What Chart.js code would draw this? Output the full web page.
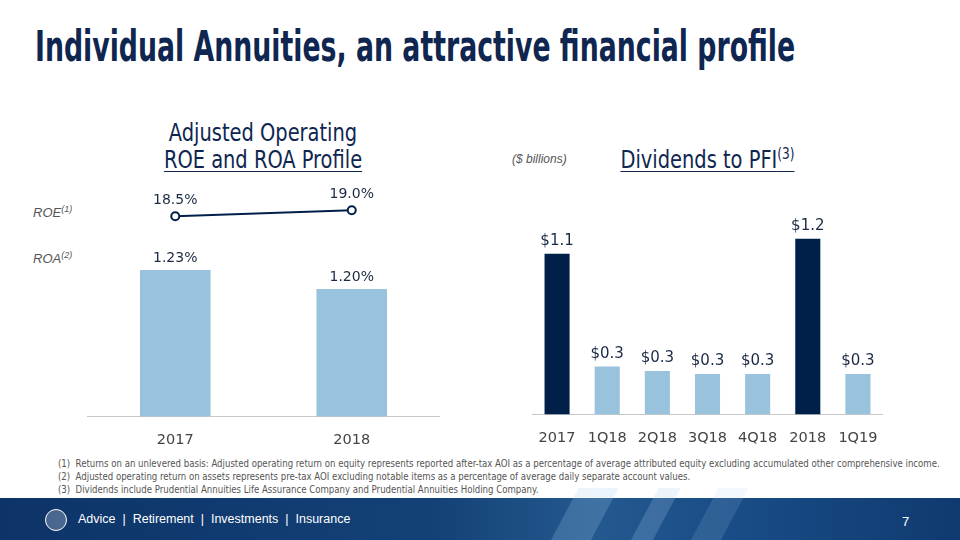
<!DOCTYPE html>
<html>
<head>
<meta charset="utf-8">
<script src="https://cdn.jsdelivr.net/npm/chart.js@4.4.1/dist/chart.umd.min.js"></script>
<style>
  body { margin: 0; background: #fff; }
  #page { position: relative; width: 960px; height: 540px; overflow: hidden; background: #fff; font-family: 'DejaVu Sans', sans-serif; }
  .abs { position: absolute; white-space: nowrap; }
  #title { left: 35px; top: 22px; font-family: 'DejaVu Sans Condensed', sans-serif; font-weight: bold; font-size: 42px; color: #0f2650; transform-origin: 0 0; }
  .ctitle { font-family: 'DejaVu Sans Condensed', sans-serif; font-size: 24px; color: #0f2650; text-align: center; line-height: 27px; transform: scaleX(0.9); }
  .ctitle u { text-decoration-thickness: 1px; text-underline-offset: 3px; }
  .side { font-family: 'Liberation Sans', sans-serif; font-style: italic; font-size: 13px; color: #555; }
  .side sup { font-size: 9px; }
  #notes { left: 58px; top: 457px; font-family: 'DejaVu Sans Condensed', sans-serif; font-size: 11px; line-height: 13px; color: #555; transform-origin: 0 0; }
  #footer { left: 0; top: 498px; width: 960px; height: 42px;
    background: linear-gradient(90deg, #0d3468 0%, #134177 45%, #24598f 62%, #1a4d87 75%, #0f3a70 100%); }
  .streak { position: absolute; top: -10px; height: 70px; background: rgba(170,205,240,0.22); transform: skewX(-28deg); }
  #logo { left: 45px; top: 509px; width: 20px; height: 20px; border: 1.5px solid #fff; border-radius: 50%; background: rgba(255,255,255,0.25); }
  #tag { left: 78px; top: 512px; font-family: 'Liberation Sans', sans-serif; font-size: 12.5px; color: #fff; }
  #pnum { left: 902px; top: 514px; font-family: 'Liberation Sans', sans-serif; font-size: 13px; color: #fff; }
  canvas { position: absolute; }
</style>
</head>
<body>
<div id="page">
  <div id="title" class="abs">Individual Annuities, an attractive financial profile</div>

  <div class="abs ctitle" style="left:140px; top:120px; width:246px;">Adjusted Operating<br><u>ROE and ROA Profile</u></div>
  <div class="abs side" style="left:33px; top:204px;">ROE<sup>(1)</sup></div>
  <div class="abs side" style="left:33px; top:250px;">ROA<sup>(2)</sup></div>

  <div class="abs side" style="left:512px; top:152px; font-size:12px;">($ billions)</div>
  <div class="abs ctitle" style="left:600px; top:141px; width:215px;"><u>Dividends to PFI<sup style="font-size:15px;">(3)</sup></u></div>

  <div style="position:absolute; left:87px; top:170px; width:353px; height:282px;"><canvas id="left"></canvas></div>
  <div style="position:absolute; left:532px; top:190px; width:351px; height:260px;"><canvas id="right"></canvas></div>

  <div id="notes" class="abs">
    (1)&nbsp; Returns on an unlevered basis: Adjusted operating return on equity represents reported after-tax AOI as a percentage of average attributed equity excluding accumulated other comprehensive income.<br>
    (2)&nbsp; Adjusted operating return on assets represents pre-tax AOI excluding notable items as a percentage of average daily separate account values.<br>
    (3)&nbsp; Dividends include Prudential Annuities Life Assurance Company and Prudential Annuities Holding Company.
  </div>

  <div id="footer" class="abs">
    <div class="streak" style="left:560px; width:40px;"></div>
    <div class="streak" style="left:640px; width:22px;"></div>
    <div class="streak" style="left:700px; width:30px; background: rgba(170,205,240,0.15);"></div>
  </div>
  <div id="logo" class="abs"></div>
  <div id="tag" class="abs">Advice&nbsp; |&nbsp; Retirement&nbsp; |&nbsp; Investments&nbsp; |&nbsp; Insurance</div>
  <div id="pnum" class="abs">7</div>
</div>

<script>
// left chart data
var years = ['2017', '2018'];
var roaValues = [1.23, 1.20];
var roeValues = [18.5, 19.0];
var roaLabels = ['1.23%', '1.20%'];
var roeLabels = ['18.5%', '19.0%'];

// right chart data
var periods = ['2017', '1Q18', '2Q18', '3Q18', '4Q18', '2018', '1Q19'];
var dividends = [1.07, 0.32, 0.29, 0.27, 0.27, 1.17, 0.27];
var dividendLabels = ['$1.1', '$0.3', '$0.3', '$0.3', '$0.3', '$1.2', '$0.3'];

var NAVY = '#00204a';
var LIGHT = '#99c2dc';

// squeeze wide text blocks to the width they have on the slide
function fitWidth(id, w) {
  var el = document.getElementById(id);
  el.style.transform = 'scaleX(' + (w / el.scrollWidth) + ')';
}
fitWidth('title', 760);
fitWidth('notes', 882);

// draws the value text above each bar / point
function valueLabels(size) {
  return {
    id: 'valueLabels',
    afterDatasetsDraw: function(chart) {
      var ctx = chart.ctx;
      ctx.save();
      ctx.font = size + 'px "DejaVu Sans"';
      ctx.fillStyle = '#1b2a44';
      ctx.textAlign = 'center';
      ctx.textBaseline = 'bottom';
      chart.data.datasets.forEach(function(ds, i) {
        var meta = chart.getDatasetMeta(i);
        meta.data.forEach(function(el, j) {
          var gap = ds.type === 'line' ? 9 : 5;
          ctx.fillText(ds.valueText[j], el.x, el.y - gap);
        });
      });
      ctx.restore();
    }
  };
}

var xAxis = {
  grid: { display: true, drawOnChartArea: false, drawTicks: true, tickLength: 12, color: 'rgba(0,0,0,0)' },
  border: { display: true, color: '#c8c8c8', width: 1 },
  ticks: { color: '#444', font: { family: 'DejaVu Sans', size: 14.5 }, padding: 3 }
};

new Chart(document.getElementById('left'), {
  type: 'bar',
  data: {
    labels: years,
    datasets: [{
      type: 'line',
      label: 'ROE',
      data: roeValues,
      valueText: roeLabels,
      yAxisID: 'y2',
      borderColor: NAVY,
      borderWidth: 2,
      pointRadius: 4,
      pointBorderWidth: 2,
      pointBackgroundColor: '#fff',
      pointBorderColor: NAVY,
      clip: false
    }, {
      label: 'ROA',
      data: roaValues,
      valueText: roaLabels,
      yAxisID: 'y',
      backgroundColor: LIGHT,
      barPercentage: 0.8,
      categoryPercentage: 0.5
    }]
  },
  options: {
    responsive: true,
    maintainAspectRatio: false,
    animation: false,
    layout: { padding: { top: 10 }, autoPadding: false },
    plugins: { legend: { display: false }, tooltip: { enabled: false } },
    scales: {
      x: xAxis,
      y: { display: false, min: 1.0, max: 1.371 },
      y2: { display: false, min: 1.92, max: 21.5 }
    }
  },
  plugins: [valueLabels(14)]
});

new Chart(document.getElementById('right'), {
  type: 'bar',
  data: {
    labels: periods,
    datasets: [{
      label: 'Dividends',
      data: dividends,
      valueText: dividendLabels,
      backgroundColor: function(c) { return (periods[c.dataIndex] === '2017' || periods[c.dataIndex] === '2018') ? NAVY : LIGHT; },
      barPercentage: 0.5,
      categoryPercentage: 1.0
    }]
  },
  options: {
    responsive: true,
    maintainAspectRatio: false,
    animation: false,
    layout: { padding: { top: 10 }, autoPadding: false },
    plugins: { legend: { display: false }, tooltip: { enabled: false } },
    scales: {
      x: xAxis,
      y: { display: false, min: 0, max: 1.427 }
    }
  },
  plugins: [valueLabels(15)]
});
</script>
</body>
</html>
